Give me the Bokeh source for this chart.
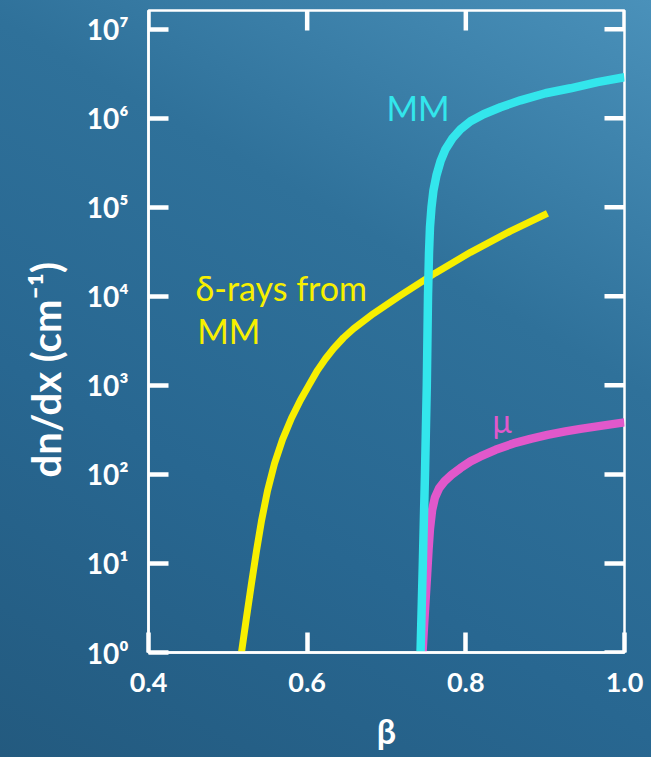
import math
from bokeh.plotting import figure
from bokeh.models import FixedTicker, Range1d, Title
from bokeh.core.properties import value
from bokeh.embed import file_html
from bokeh.resources import INLINE

# ---------------- data ----------------
mm_beta = [0.7429, 0.7458, 0.7485, 0.7508, 0.7523, 0.7536, 0.7548, 0.7567,
           0.7592, 0.7630, 0.7681, 0.7744, 0.7832, 0.7933, 0.8059, 0.8223,
           0.8437, 0.8689, 0.9004, 0.9319, 0.9660, 1.0]
mm_dndx = [1, 10, 100, 1000, 1.0e4, 3.12e4, 5.96e4, 1.0e5,
           1.55e5, 2.29e5, 3.29e5, 4.49e5, 5.96e5, 7.52e5, 9.25e5, 1.11e6,
           1.33e6, 1.59e6, 1.91e6, 2.17e6, 2.54e6, 2.89e6]

mu_beta = [0.7454, 0.7473, 0.7492, 0.7511, 0.7529, 0.7548, 0.7574, 0.7611,
           0.7662, 0.7731, 0.7819, 0.7933, 0.8059, 0.8185, 0.8374, 0.8601,
           0.8815, 0.9029, 0.9256, 0.9445, 0.9698, 1.0]
mu_dndx = [1, 2.01, 3.84, 7.33, 14.0, 24.7, 39.4, 55.2,
           69.6, 83.4, 98.7, 118, 140, 159, 189, 223,
           251, 278, 304, 325, 351, 384]

delta_beta = [0.5172, 0.5235, 0.5298, 0.5361, 0.5424, 0.5500, 0.5588, 0.5689,
              0.5803, 0.5916, 0.6017, 0.6130, 0.6231, 0.6332, 0.6458, 0.6584,
              0.6836, 0.7176, 0.7618, 0.8059, 0.8563, 0.9029]
delta_dndx = [1, 2.47, 5.96, 13.8, 30.0, 65.3, 132, 246,
              430, 686, 987, 1474, 1991, 2591, 3426, 4325,
              6408, 10230, 18320, 31220, 54030, 85630]

x_ticks = [0.4, 0.6, 0.8, 1.0]
x_tick_labels = ["0.4", "0.6", "0.8", "1.0"]
y_ticks = [1, 10, 100, 1000, 10000, 100000, 1000000, 10000000]
y_tick_labels = ["10⁰", "10¹", "10²", "10³", "10⁴", "10⁵", "10⁶", "10⁷"]

x_title = "β"
y_title = "dn/dx (cm⁻¹)"
label_mm = "MM"
label_mu = "μ"
label_delta = ["δ-rays from", "MM"]

# ---------------- styles ----------------
FONT = "Lato"
WHITE = "#ffffff"
CYAN = "#33e6ec"
YELLOW = "#f7ef00"
MAGENTA = "#e158cb"

X0, X1 = 0.4, 1.0
Y0, Y1 = 1, 10 ** 7.21
FRAME_W, FRAME_H = 476, 642
TICK_PX = 20

p = figure(width=651, height=757,
           x_range=Range1d(X0, X1), y_range=Range1d(Y0, Y1),
           y_axis_type="log", output_backend="svg", toolbar_location=None,
           min_border_left=148, min_border_right=27,
           min_border_top=10, min_border_bottom=105)

p.styles = {"background": "linear-gradient(30deg, #235a7f 0%, #286791 35%, #2f719a 65%, #4a91ba 100%)"}
p.background_fill_alpha = 0
p.border_fill_alpha = 0
p.outline_line_color = WHITE
p.outline_line_width = 2.5
p.xgrid.visible = False
p.ygrid.visible = False

def style_axis(ax):
    ax.axis_line_color = WHITE
    ax.axis_line_width = 2.5
    ax.major_tick_line_color = WHITE
    ax.major_tick_line_width = 4.5
    ax.major_tick_in = TICK_PX
    ax.major_tick_out = 0
    ax.minor_tick_line_color = None
    ax.major_label_text_color = WHITE
    ax.major_label_text_font = FONT
    ax.major_label_text_font_style = "bold"
    ax.major_label_text_font_size = "27px"

# bottom x axis
xa = p.xaxis[0]
xa.ticker = FixedTicker(ticks=x_ticks)
xa.major_label_overrides = {t: l for t, l in zip(x_ticks, x_tick_labels)}
style_axis(xa)
xa.major_label_standoff = 20
xa.axis_label = x_title
xa.axis_label_text_font = FONT
xa.axis_label_text_font_style = "bold"
xa.axis_label_text_font_size = "34px"
xa.axis_label_text_color = WHITE
xa.axis_label_standoff = 15

# left y axis
ya = p.yaxis[0]
ya.ticker = FixedTicker(ticks=y_ticks)
ya.major_label_overrides = {t: l for t, l in zip(y_ticks, y_tick_labels)}
style_axis(ya)
ya.major_label_text_font_size = "28px"
ya.major_label_standoff = 20

# y title as a rotated side title, placed a little below the frame centre
p.add_layout(Title(text=y_title, align="left", offset=175, standoff=28,
                   text_color=WHITE, text_font=FONT, text_font_style="bold",
                   text_font_size="40px"), "left")

# inward ticks on the top and right frame edges (from the tick arrays)
dy_fac = 10 ** (TICK_PX * math.log10(Y1 / Y0) / FRAME_H)
dx = TICK_PX * (X1 - X0) / FRAME_W
p.segment(x0=x_ticks, y0=[Y1] * len(x_ticks), x1=x_ticks,
          y1=[Y1 / dy_fac] * len(x_ticks), line_color=WHITE, line_width=4.5)
p.segment(x0=[X1] * len(y_ticks), y0=y_ticks, x1=[X1 - dx] * len(y_ticks),
          y1=y_ticks, line_color=WHITE, line_width=4.5)

# curves
p.line(delta_beta, delta_dndx, line_color=YELLOW, line_width=7, line_join="round")
p.line(mu_beta, mu_dndx, line_color=MAGENTA, line_width=8.5, line_join="round")
p.line(mm_beta, mm_dndx, line_color=CYAN, line_width=8.5, line_join="round")

# annotations
p.text(x=[0.700], y=[10 ** 6.12], text=[label_mm], text_color=CYAN,
       text_font=value(FONT), text_font_size="34px", text_baseline="alphabetic")
p.text(x=[0.8336], y=[10 ** 2.61], text=[label_mu], text_color=MAGENTA,
       text_font=value(FONT), text_font_size="32px", text_baseline="alphabetic")
p.text(x=[0.4593, 0.4615], y=[10 ** 4.10, 10 ** 3.618], text=label_delta,
       text_color=YELLOW, text_font=value(FONT), text_font_size="34px",
       text_baseline="alphabetic")

open("out.html", "w").write(file_html(p, INLINE))
